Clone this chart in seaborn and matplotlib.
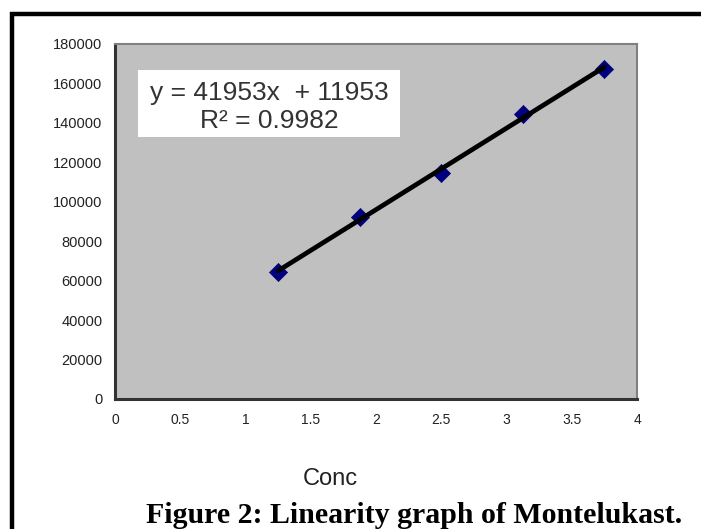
import matplotlib
matplotlib.use("Agg")
import matplotlib.pyplot as plt
import seaborn as sns
import pandas as pd
from matplotlib.lines import Line2D
from matplotlib.patches import Rectangle

# data
conc = [1.25, 1.875, 2.5, 3.125, 3.75]
area = [64500, 92300, 114400, 144700, 167400]
x_ticks = [0, 0.5, 1, 1.5, 2, 2.5, 3, 3.5, 4]
x_tick_labels = ["0", "0.5", "1", "1.5", "2", "2.5", "3", "3.5", "4"]
y_ticks = [0, 20000, 40000, 60000, 80000, 100000, 120000, 140000, 160000, 180000]
equation = "y = 41953x  + 11953"
r_squared = "R² = 0.9982"
x_label = "Conc"
caption = "Figure 2: Linearity graph of Montelukast."

df = pd.DataFrame({"conc": conc, "area": area})

sns.set_style("white")
plt.rcParams["font.family"] = ["Liberation Sans", "DejaVu Sans"]

W, H = 701, 529
fig = plt.figure(figsize=(W / 100, H / 100), dpi=100)
fig.patch.set_facecolor("white")


def fx(px):
    return px / W


def fy(py):
    return 1 - py / H


ax = fig.add_axes([fx(115), fy(399), fx(637) - fx(115), fy(44) - fy(399)])
ax.set_facecolor("#c0c0c0")

sns.regplot(
    data=df, x="conc", y="area", ax=ax, ci=None, truncate=True,
    marker="D",
    scatter_kws={"s": 85, "color": "#000080", "edgecolor": "#000070", "linewidths": 0.5,
                 "alpha": 1, "zorder": 2},
    line_kws={"color": "black", "linewidth": 3.4, "zorder": 3},
)

ax.set_xlim(0, 4)
ax.set_ylim(0, 180000)
ax.set_xticks(x_ticks)
ax.set_xticklabels(x_tick_labels)
ax.set_yticks(y_ticks)
ax.set_yticklabels([str(v) for v in y_ticks])
ax.set_xlabel("")
ax.set_ylabel("")

ax.tick_params(axis="both", which="major", direction="out", length=4, width=1.5,
               color="#333333", labelcolor="#222222")
ax.tick_params(axis="y", pad=5, labelsize=10.5)
ax.tick_params(axis="x", pad=6, labelsize=10)

for side in ["left", "bottom"]:
    ax.spines[side].set_color("#333333")
    ax.spines[side].set_linewidth(2.2)
for side in ["top", "right"]:
    ax.spines[side].set_color("#808080")
    ax.spines[side].set_linewidth(1.5)

# equation box
fig.patches.append(Rectangle((fx(138), fy(137)), fx(400) - fx(138), fy(70) - fy(137),
                             transform=fig.transFigure, facecolor="white",
                             edgecolor="none", zorder=5))
fig.text(fx(269), fy(100), equation, ha="center", va="baseline", fontsize=19,
         color="#333333", zorder=6)
fig.text(fx(269), fy(128), r_squared, ha="center", va="baseline", fontsize=19,
         color="#333333", zorder=6)

# axis title and caption
fig.text(fx(330), fy(485), x_label, ha="center", va="baseline", fontsize=17,
         color="#222222")
fig.text(fx(414), fy(523), caption, ha="center", va="baseline", fontsize=21.5,
         fontweight="bold", family=["Liberation Serif", "DejaVu Serif"], color="black")

# black page frame (top and left)
fig.lines.append(Line2D([fx(10), 1], [fy(14), fy(14)], transform=fig.transFigure,
                        color="black", linewidth=3.2, solid_capstyle="butt"))
fig.lines.append(Line2D([fx(12), fx(12)], [fy(12), 0], transform=fig.transFigure,
                        color="black", linewidth=3.2, solid_capstyle="butt"))

fig.savefig("out.png", dpi=100)
